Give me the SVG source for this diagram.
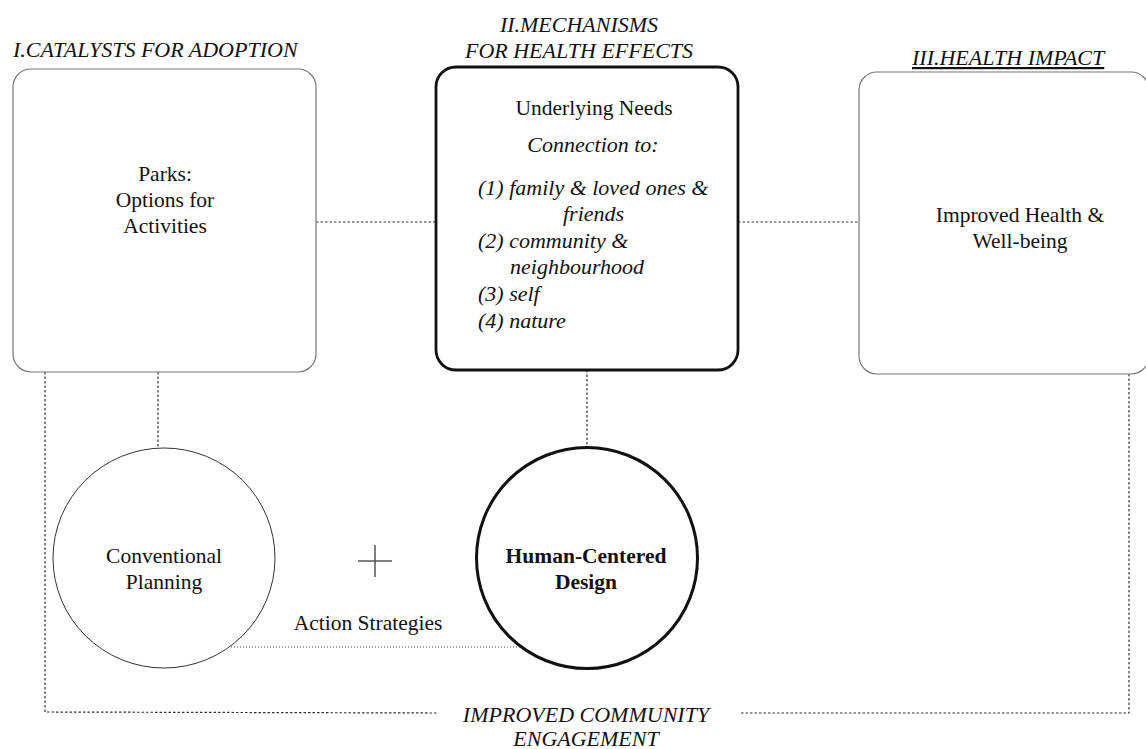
<svg xmlns="http://www.w3.org/2000/svg" width="1146" height="749" viewBox="0 0 1146 749">
<style>
  text { font-family: "Liberation Serif", "Times New Roman", serif; font-size: 21.5px; fill: #111; }
  .it { font-style: italic; font-size: 22px; }
  .b { font-weight: bold; }
  .mid { text-anchor: middle; }
  .thin { fill: #fff; stroke: #777; stroke-width: 1.2; }
  .thick { fill: #fff; stroke: #111; stroke-width: 2.8; }
  .dash { fill: none; stroke: #333; stroke-width: 1.2; stroke-dasharray: 2.5 2; }
  .dot { fill: none; stroke: #555; stroke-width: 1.2; stroke-dasharray: 1 2; }
</style>
<rect width="1146" height="749" fill="#fff"/>

<g id="connectors">
  <line class="dash" x1="316" y1="222" x2="436" y2="222"/>
  <line class="dash" x1="738" y1="222" x2="859" y2="222"/>
  <line class="dash" x1="158" y1="372" x2="158" y2="448"/>
  <line class="dash" x1="587" y1="370" x2="587" y2="448"/>
  <polyline class="dash" points="45,372 45,712 438,713"/>
  <polyline class="dash" points="1129,374 1129,713 740,713"/>
  <line class="dot" x1="231" y1="647" x2="521" y2="647"/>
</g>

<g id="header-1">
  <text class="it" x="13" y="57">I.CATALYSTS FOR ADOPTION</text>
</g>
<g id="header-2">
  <text class="it mid" x="579" y="32">II.MECHANISMS</text>
  <text class="it mid" x="579" y="58">FOR HEALTH EFFECTS</text>
</g>
<g id="header-3">
  <text class="it" x="912" y="65" text-decoration="underline">III.HEALTH IMPACT</text>
</g>

<g id="node-parks">
  <rect class="thin" x="13" y="69" width="303" height="303" rx="18"/>
  <text class="mid" x="165" y="181">Parks:</text>
  <text class="mid" x="165" y="207">Options for</text>
  <text class="mid" x="165" y="233">Activities</text>
</g>

<g id="node-needs">
  <rect class="thick" x="436" y="67" width="302" height="303" rx="20"/>
  <text class="mid" x="594" y="115">Underlying Needs</text>
  <text class="it mid" x="593" y="152">Connection to:</text>
  <text class="it" x="478" y="195">(1) family &amp; loved ones &amp;</text>
  <text class="it" x="563" y="221">friends</text>
  <text class="it" x="478" y="248">(2) community &amp;</text>
  <text class="it" x="510" y="274">neighbourhood</text>
  <text class="it" x="478" y="301">(3) self</text>
  <text class="it" x="478" y="328">(4) nature</text>
</g>

<g id="node-health">
  <rect class="thin" x="859" y="72" width="290" height="302" rx="18"/>
  <text class="mid" x="1020" y="222">Improved Health &amp;</text>
  <text class="mid" x="1020" y="248">Well-being</text>
</g>

<g id="node-conventional">
  <ellipse class="thin" cx="164" cy="558" rx="111" ry="110" style="stroke:#333;stroke-width:1"/>
  <text class="mid" x="164" y="563">Conventional</text>
  <text class="mid" x="164" y="589">Planning</text>
</g>

<g id="node-plus">
  <line x1="358" y1="561" x2="392" y2="561" stroke="#555" stroke-width="1.5"/>
  <line x1="375" y1="545" x2="375" y2="577" stroke="#555" stroke-width="1.5"/>
</g>

<g id="node-hcd">
  <circle class="thick" cx="587" cy="558" r="110.5" style="stroke-width:3"/>
  <text class="mid b" x="586" y="563">Human-Centered</text>
  <text class="mid b" x="586" y="589">Design</text>
</g>

<g id="label-action">
  <text class="mid" x="368" y="630">Action Strategies</text>
</g>

<g id="label-engagement">
  <text class="it mid" x="586" y="722">IMPROVED COMMUNITY</text>
  <text class="it mid" x="586" y="746">ENGAGEMENT</text>
</g>
</svg>
